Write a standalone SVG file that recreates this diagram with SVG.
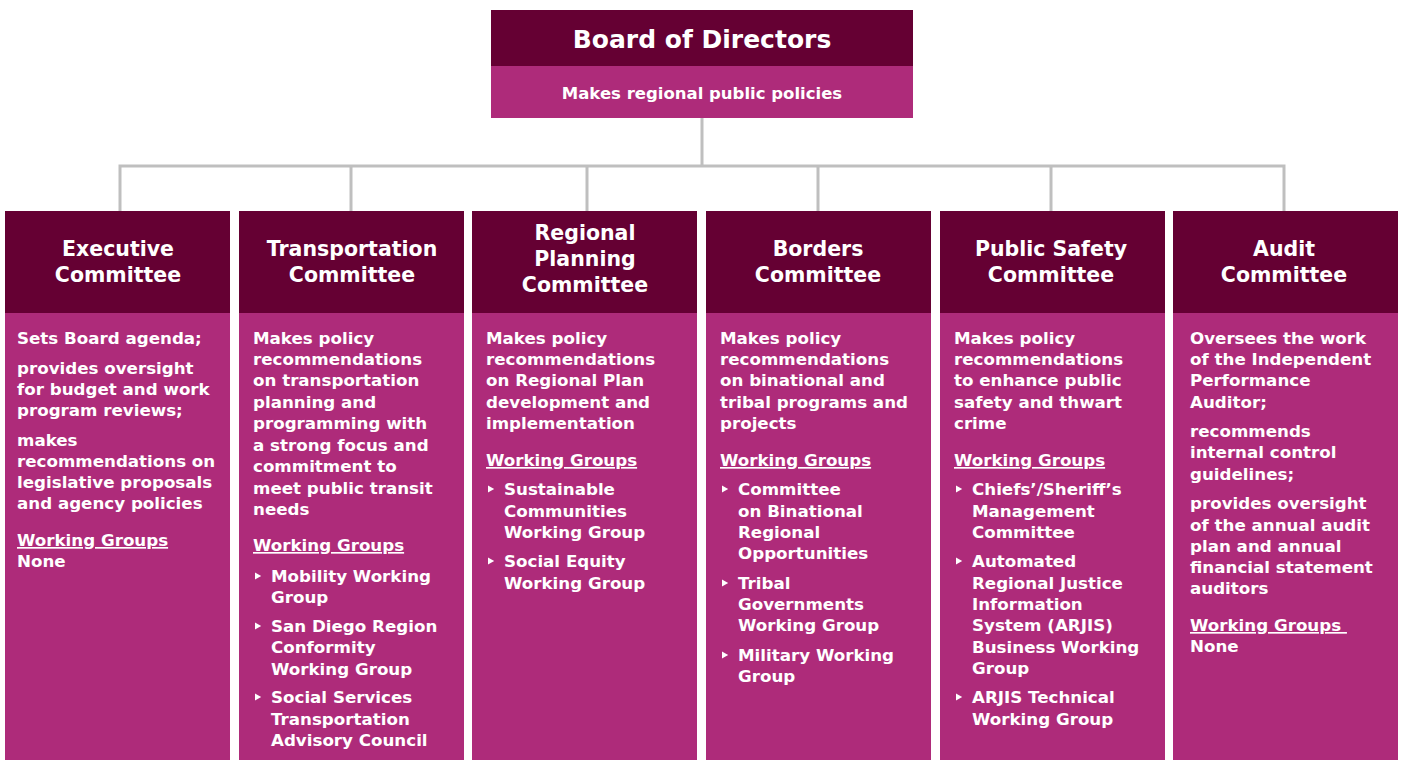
<svg xmlns="http://www.w3.org/2000/svg" xmlns:xlink="http://www.w3.org/1999/xlink" width="1403" height="760" viewBox="0 0 1403 760">
<style>
.hd{fill:#650033}
.bd{fill:#AE2B7A}
.t{font-family:"DejaVu Sans","Liberation Sans",sans-serif;font-weight:bold;fill:#fff}
.title{font-size:25px}
.sub{font-size:16.5px}
.head{font-size:20.5px;text-anchor:middle}
.body{font-size:16.7px}
.u{text-decoration:underline}
.cn{fill:none;stroke:#BFBFBF;stroke-width:3}
</style>
<defs>
<path id="b" d="M0,-3.6 L6.2,0 L0,3.6Z" fill="#fff"/>
</defs>
<rect width="1403" height="760" fill="#fff"/>
<g id="connectors">
<path class="cn" d="M702,118 V166 M120,211 V166 H1284 V211 M351,166 V211 M587,166 V211 M818,166 V211 M1051,166 V211"/>
</g>
<g id="board">
<rect class="hd" x="491" y="10" width="422" height="56"/>
<rect class="bd" x="491" y="66" width="422" height="52"/>
<text class="t title" x="702" y="48" text-anchor="middle">Board of Directors</text>
<text class="t sub" x="702" y="99" text-anchor="middle">Makes regional public policies</text>
</g>
<g id="executive">
<rect class="hd" x="5" y="211" width="225" height="102"/>
<rect class="bd" x="5" y="313" width="225" height="447"/>
<text class="t head"><tspan x="118" y="256">Executive</tspan><tspan x="118" y="282">Committee</tspan></text>
<text class="t body"><tspan x="17" y="344">Sets Board agenda;</tspan><tspan x="17" y="374">provides oversight</tspan><tspan x="17" y="395">for budget and work</tspan><tspan x="17" y="416">program reviews;</tspan><tspan x="17" y="446">makes</tspan><tspan x="17" y="467">recommendations on</tspan><tspan x="17" y="488">legislative proposals</tspan><tspan x="17" y="509">and agency policies</tspan></text>
<text class="t body u" x="17" y="546">Working Groups</text>
<text class="t body" x="17" y="567">None</text>
</g>
<g id="transportation">
<rect class="hd" x="239" y="211" width="225" height="102"/>
<rect class="bd" x="239" y="313" width="225" height="447"/>
<text class="t head"><tspan x="352" y="256">Transportation</tspan><tspan x="352" y="282">Committee</tspan></text>
<text class="t body"><tspan x="253" y="344">Makes policy</tspan><tspan x="253" y="365">recommendations</tspan><tspan x="253" y="386">on transportation</tspan><tspan x="253" y="408">planning and</tspan><tspan x="253" y="429">programming with</tspan><tspan x="253" y="451">a strong focus and</tspan><tspan x="253" y="472">commitment to</tspan><tspan x="253" y="494">meet public transit</tspan><tspan x="253" y="515">needs</tspan></text>
<text class="t body u" x="253" y="551">Working Groups</text>
<use xlink:href="#b" x="255" y="576"/>
<use xlink:href="#b" x="255" y="626"/>
<use xlink:href="#b" x="255" y="697"/>
<text class="t body"><tspan x="271" y="582">Mobility Working</tspan><tspan x="271" y="603">Group</tspan><tspan x="271" y="632">San Diego Region</tspan><tspan x="271" y="653">Conformity</tspan><tspan x="271" y="675">Working Group</tspan><tspan x="271" y="703">Social Services</tspan><tspan x="271" y="725">Transportation</tspan><tspan x="271" y="746">Advisory Council</tspan></text>
</g>
<g id="regional">
<rect class="hd" x="472" y="211" width="225" height="102"/>
<rect class="bd" x="472" y="313" width="225" height="447"/>
<text class="t head"><tspan x="585" y="240">Regional</tspan><tspan x="585" y="266">Planning</tspan><tspan x="585" y="292">Committee</tspan></text>
<text class="t body"><tspan x="486" y="344">Makes policy</tspan><tspan x="486" y="365">recommendations</tspan><tspan x="486" y="386">on Regional Plan</tspan><tspan x="486" y="408">development and</tspan><tspan x="486" y="429">implementation</tspan></text>
<text class="t body u" x="486" y="466">Working Groups</text>
<use xlink:href="#b" x="488" y="489"/>
<use xlink:href="#b" x="488" y="561"/>
<text class="t body"><tspan x="504" y="495">Sustainable</tspan><tspan x="504" y="517">Communities</tspan><tspan x="504" y="538">Working Group</tspan><tspan x="504" y="567">Social Equity</tspan><tspan x="504" y="589">Working Group</tspan></text>
</g>
<g id="borders">
<rect class="hd" x="706" y="211" width="225" height="102"/>
<rect class="bd" x="706" y="313" width="225" height="447"/>
<text class="t head"><tspan x="818" y="256">Borders</tspan><tspan x="818" y="282">Committee</tspan></text>
<text class="t body"><tspan x="720" y="344">Makes policy</tspan><tspan x="720" y="365">recommendations</tspan><tspan x="720" y="386">on binational and</tspan><tspan x="720" y="408">tribal programs and</tspan><tspan x="720" y="429">projects</tspan></text>
<text class="t body u" x="720" y="466">Working Groups</text>
<use xlink:href="#b" x="722" y="489"/>
<use xlink:href="#b" x="722" y="583"/>
<use xlink:href="#b" x="722" y="655"/>
<text class="t body"><tspan x="738" y="495">Committee</tspan><tspan x="738" y="517">on Binational</tspan><tspan x="738" y="538">Regional</tspan><tspan x="738" y="559">Opportunities</tspan><tspan x="738" y="589">Tribal</tspan><tspan x="738" y="610">Governments</tspan><tspan x="738" y="631">Working Group</tspan><tspan x="738" y="661">Military Working</tspan><tspan x="738" y="682">Group</tspan></text>
</g>
<g id="public-safety">
<rect class="hd" x="940" y="211" width="225" height="102"/>
<rect class="bd" x="940" y="313" width="225" height="447"/>
<text class="t head"><tspan x="1051" y="256">Public Safety</tspan><tspan x="1051" y="282">Committee</tspan></text>
<text class="t body"><tspan x="954" y="344">Makes policy</tspan><tspan x="954" y="365">recommendations</tspan><tspan x="954" y="386">to enhance public</tspan><tspan x="954" y="408">safety and thwart</tspan><tspan x="954" y="429">crime</tspan></text>
<text class="t body u" x="954" y="466">Working Groups</text>
<use xlink:href="#b" x="956" y="489"/>
<use xlink:href="#b" x="956" y="561"/>
<use xlink:href="#b" x="956" y="697"/>
<text class="t body"><tspan x="972" y="495">Chiefs’/Sheriff’s</tspan><tspan x="972" y="517">Management</tspan><tspan x="972" y="538">Committee</tspan><tspan x="972" y="567">Automated</tspan><tspan x="972" y="589">Regional Justice</tspan><tspan x="972" y="610">Information</tspan><tspan x="972" y="631">System (ARJIS)</tspan><tspan x="972" y="653">Business Working</tspan><tspan x="972" y="674">Group</tspan><tspan x="972" y="703">ARJIS Technical</tspan><tspan x="972" y="725">Working Group</tspan></text>
</g>
<g id="audit">
<rect class="hd" x="1173" y="211" width="225" height="102"/>
<rect class="bd" x="1173" y="313" width="225" height="447"/>
<text class="t head"><tspan x="1284" y="256">Audit</tspan><tspan x="1284" y="282">Committee</tspan></text>
<text class="t body"><tspan x="1190" y="344">Oversees the work</tspan><tspan x="1190" y="365">of the Independent</tspan><tspan x="1190" y="386">Performance</tspan><tspan x="1190" y="408">Auditor;</tspan><tspan x="1190" y="437">recommends</tspan><tspan x="1190" y="458">internal control</tspan><tspan x="1190" y="480">guidelines;</tspan><tspan x="1190" y="509">provides oversight</tspan><tspan x="1190" y="531">of the annual audit</tspan><tspan x="1190" y="552">plan and annual</tspan><tspan x="1190" y="573">financial statement</tspan><tspan x="1190" y="594">auditors</tspan></text>
<text class="t body u" x="1190" y="631">Working Groups&#160;</text>
<text class="t body" x="1190" y="652">None</text>
</g>
</svg>
